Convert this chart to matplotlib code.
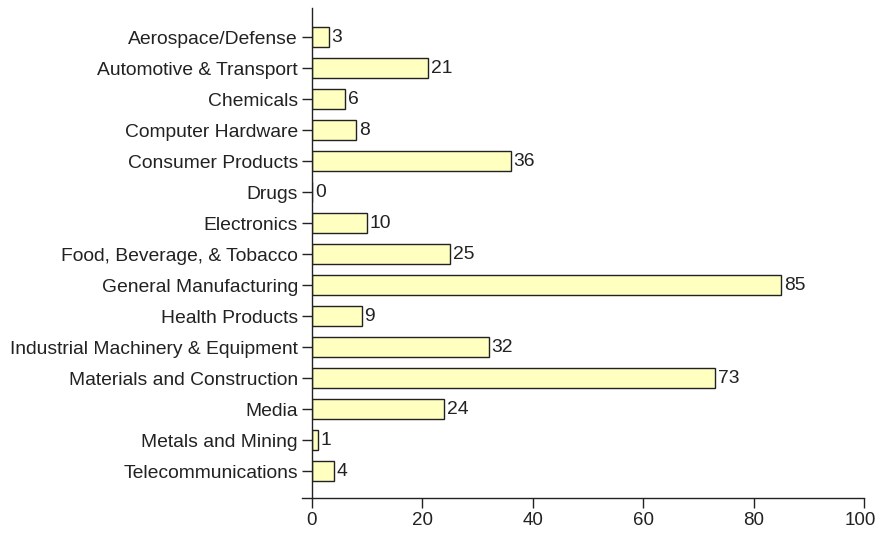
import matplotlib
matplotlib.use("Agg")
import matplotlib.pyplot as plt
import matplotlib.transforms as mtransforms

# ---------- data ----------
industries = [
    "Aerospace/Defense", "Automotive & Transport", "Chemicals", "Computer Hardware",
    "Consumer Products", "Drugs", "Electronics", "Food, Beverage, & Tobacco",
    "General Manufacturing", "Health Products", "Industrial Machinery & Equipment",
    "Materials and Construction", "Media", "Metals and Mining", "Telecommunications",
]
counts = [3, 21, 6, 8, 36, 0, 10, 25, 85, 9, 32, 73, 24, 1, 4]
x_ticks = [0, 20, 40, 60, 80, 100]

plt.rcParams.update({"font.family": "Liberation Sans", "font.size": 13.9})

fig = plt.figure(figsize=(8.78, 5.34), dpi=100)
ax = fig.add_axes([312 / 878, 1 - 498 / 534, (864 - 312) / 878, 490 / 534])

pos = list(range(len(industries)))
ax.barh(pos, counts, height=0.64, color="#FFFFC0", edgecolor="#222222", linewidth=1.0)
for p, v in zip(pos, counts):
    ax.text(v + 0.5, p, str(v), va="center", ha="left", color="#222222")

ax.set_xlim(0, 100)
ax.set_ylim(14.87, -0.94)
ax.set_yticks(pos)
ax.set_yticklabels(industries, color="#222222")
ax.set_xticks(x_ticks)
ax.set_xticklabels([str(t) for t in x_ticks], color="#222222", fontsize=13.5)

for s in ["top", "right"]:
    ax.spines[s].set_visible(False)
for s in ["left", "bottom"]:
    ax.spines[s].set_linewidth(1.0)
    ax.spines[s].set_color("#222222")
ax.spines["bottom"].set_bounds(-1.8, 100)
ax.tick_params(axis="y", length=7.2, width=1.0, color="#222222", pad=3)
ax.tick_params(axis="x", length=7.2, width=1.0, color="#222222", pad=3.2)

# nudge "100" left a few pixels so it stays on the canvas
last = ax.get_xticklabels()[-1]
last.set_transform(last.get_transform()
                   + mtransforms.ScaledTranslation(-4 / 100, 0, fig.dpi_scale_trans))

fig.savefig("out.png", dpi=100, facecolor="white")
